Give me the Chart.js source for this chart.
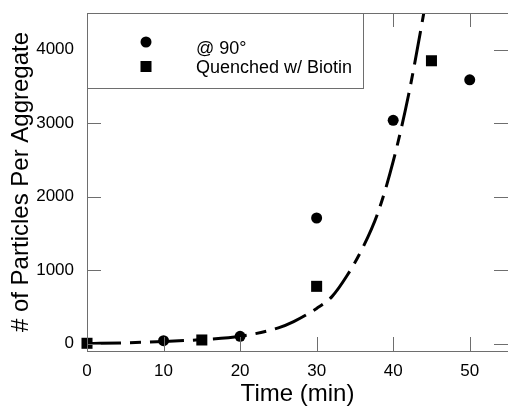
<!DOCTYPE html>
<html>
<head>
<meta charset="utf-8">
<script src="https://cdn.jsdelivr.net/npm/chart.js@4/dist/chart.umd.min.js"></script>
<style>
  html, body { margin: 0; padding: 0; background: #fff; overflow: hidden; }
  canvas { display: block; }
</style>
</head>
<body>
<canvas id="chart" width="508" height="406"></canvas>
<script>
// Data
const times90 = [10, 20, 30, 40, 50];
const particles90 = [40, 100, 1710, 3040, 3590];

const timesBiotin = [0, 15, 30, 45];
const particlesBiotin = [5, 50, 780, 3850];

// dashed fit curve
const fitTimes = [0, 5, 10, 15, 20, 25, 27, 30, 32, 34, 36, 38, 40, 42, 44, 44.5];
const fitParticles = [0, 12, 30, 55, 100, 215, 300, 480, 640, 930, 1300, 1780, 2480, 3380, 4500, 4800];

const xTicks = [0, 10, 20, 30, 40, 50];
const yTicks = [0, 1000, 2000, 3000, 4000];

const legendLabels = ['@ 90°', 'Quenched w/ Biotin'];

const FONT = "'Liberation Sans', Arial, sans-serif";
const AXIS_GREY = '#6e6e6e';

function toPoints(xs, ys) {
    return xs.map((x, i) => ({ x: x, y: ys[i] }));
}

// Inner ticks on all four sides, top frame line, and the boxed legend
const framePlugin = {
    id: 'frame',
    afterDraw(chart) {
        const ctx = chart.ctx;
        const area = chart.chartArea;
        const xs = chart.scales.x;
        const ys = chart.scales.y;
        const len = 14;
        ctx.save();
        ctx.setLineDash([]);
        ctx.strokeStyle = AXIS_GREY;
        ctx.lineWidth = 1;
        ctx.beginPath();
        ctx.moveTo(area.left, area.top + 0.5);
        ctx.lineTo(area.right, area.top + 0.5);
        xTicks.forEach(v => {
            const px = Math.round(xs.getPixelForValue(v)) + 0.5;
            ctx.moveTo(px, area.bottom);
            ctx.lineTo(px, area.bottom - len);
            ctx.moveTo(px, area.top);
            ctx.lineTo(px, area.top + len);
        });
        yTicks.forEach(v => {
            const py = Math.round(ys.getPixelForValue(v)) + 0.5;
            ctx.moveTo(area.left, py);
            ctx.lineTo(area.left + len, py);
            ctx.moveTo(area.right, py);
            ctx.lineTo(area.right - len, py);
        });
        ctx.stroke();

        // legend box
        const bx = area.left, by = area.top, bw = 276, bh = 75;
        ctx.fillStyle = '#fff';
        ctx.fillRect(bx, by, bw, bh);
        ctx.strokeStyle = AXIS_GREY;
        ctx.strokeRect(bx + 0.5, by + 0.5, bw, bh);

        ctx.fillStyle = '#000';
        ctx.beginPath();
        ctx.arc(146, 42, 5.5, 0, Math.PI * 2);
        ctx.fill();
        ctx.fillRect(140.5, 61, 11, 11);

        ctx.font = '18px ' + FONT;
        ctx.textBaseline = 'alphabetic';
        ctx.textAlign = 'left';
        ctx.fillText(legendLabels[0], 196, 54);
        ctx.fillText(legendLabels[1], 196, 73);
        ctx.restore();
    }
};

new Chart(document.getElementById('chart'), {
    type: 'scatter',
    data: {
        datasets: [
            {
                label: 'fit',
                type: 'line',
                data: toPoints(fitTimes, fitParticles),
                borderColor: '#000',
                borderWidth: 3,
                borderDash: [34, 9, 11, 9],
                cubicInterpolationMode: 'monotone',
                pointRadius: 0,
                fill: false,
                clip: 0
            },
            {
                label: legendLabels[0],
                data: toPoints(times90, particles90),
                pointStyle: 'circle',
                pointRadius: 5.5,
                backgroundColor: '#000',
                borderColor: '#000',
                borderWidth: 0,
                clip: false
            },
            {
                label: legendLabels[1],
                data: toPoints(timesBiotin, particlesBiotin),
                pointStyle: 'rect',
                pointRadius: 7.8,
                backgroundColor: '#000',
                borderColor: '#000',
                borderWidth: 0,
                clip: false
            }
        ]
    },
    options: {
        responsive: false,
        animation: false,
        layout: { autoPadding: false, padding: { top: 13, right: 0, bottom: 0, left: 0 } },
        plugins: {
            legend: { display: false },
            tooltip: { enabled: false }
        },
        scales: {
            x: {
                type: 'linear',
                min: 0,
                max: 55,
                afterBuildTicks: s => { s.ticks = xTicks.map(v => ({ value: v })); },
                afterFit: s => { s.height = 55; s.paddingLeft = 0; s.paddingRight = 0; },
                ticks: {
                    color: '#000',
                    padding: 10,
                    maxRotation: 0,
                    autoSkip: false,
                    font: { family: FONT, size: 17 },
                    callback: v => String(v)
                },
                grid: { display: false, drawTicks: false },
                border: { color: AXIS_GREY, width: 1 },
                title: {
                    display: true,
                    text: 'Time (min)',
                    color: '#000',
                    font: { family: FONT, size: 24, lineHeight: 1 },
                    padding: { top: 0, bottom: 0 }
                }
            },
            y: {
                type: 'linear',
                min: -100,
                max: 4500,
                afterBuildTicks: s => { s.ticks = yTicks.map(v => ({ value: v })); },
                afterFit: s => { s.width = 87; s.paddingTop = 0; s.paddingBottom = 0; },
                ticks: {
                    color: '#000',
                    padding: 13,
                    autoSkip: false,
                    font: { family: FONT, size: 17 },
                    callback: v => String(v)
                },
                grid: { display: false, drawTicks: false },
                border: { color: AXIS_GREY, width: 1 },
                title: {
                    display: true,
                    text: '# of Particles Per Aggregate',
                    color: '#000',
                    font: { family: FONT, size: 24, lineHeight: 1.2 },
                    padding: { top: 7, bottom: 0 }
                }
            }
        }
    },
    plugins: [framePlugin]
});
</script>
</body>
</html>
